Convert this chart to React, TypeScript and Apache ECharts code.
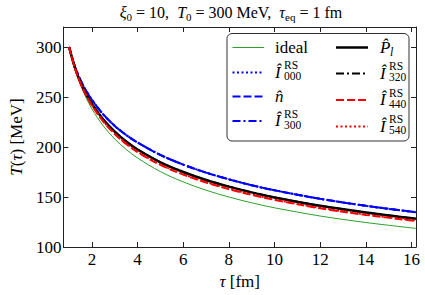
import React, { useEffect, useRef } from 'react';
import * as echarts from 'echarts';

// proper time tau [fm]
const tau = [1, 1.25, 1.5, 1.75, 2, 2.5, 3, 3.5, 4, 5, 6, 7, 8, 9, 10, 12, 14, 16.2];
// T(tau) [MeV]
const ideal = [300, 278.5, 262.1, 248.9, 238.1, 221.0, 208.0, 197.6, 189.0, 175.4, 165.1, 156.8, 150.0, 144.2, 139.2, 131.0, 124.5, 118.6];
const I000 = [300, 280.7, 266.8, 256.1, 247.1, 232.5, 221.1, 212.0, 204.5, 192.1, 182.4, 174.4, 167.7, 161.8, 156.7, 148.2, 141.2, 134.7];
const nHat = [300, 280.7, 266.8, 256.1, 247.1, 232.5, 221.1, 212.0, 204.5, 192.1, 182.4, 174.4, 167.7, 161.8, 156.7, 148.2, 141.2, 134.7];
const I300 = [300, 280.7, 266.8, 256.1, 247.1, 232.5, 221.1, 212.0, 204.5, 192.1, 182.4, 174.4, 167.7, 161.8, 156.7, 148.2, 141.2, 134.7];
const PlHat = [300, 279.6, 264.5, 252.6, 243.1, 227.4, 215.3, 205.5, 197.5, 184.7, 175.0, 167.0, 160.4, 154.6, 149.6, 141.2, 134.5, 128.2];
const I320 = [300, 279.6, 264.5, 252.6, 243.1, 227.4, 215.3, 205.5, 197.5, 184.7, 175.0, 167.0, 160.4, 154.6, 149.6, 141.2, 134.5, 128.2];
const I440 = [300, 279.1, 263.7, 251.4, 241.4, 225.4, 213.0, 203.1, 194.9, 182.1, 172.4, 164.5, 157.9, 152.1, 147.1, 138.7, 132.1, 126.0];
const I540 = [300, 279.3, 264.0, 251.8, 241.9, 225.9, 213.5, 203.6, 195.4, 182.6, 172.9, 165.0, 158.4, 152.6, 147.6, 139.2, 132.6, 126.5];

const xTicks = [2, 4, 6, 8, 10, 12, 14, 16];
const yTicks = [100, 150, 200, 250, 300];

const SERIF = 'Liberation Serif';

type SeriesDef = {
  key: string;
  data: number[];
  color: string;
  width: number;
  dash: number[] | null;
  label: { main: string; italic: boolean; sub?: string; sup?: string; subItalic?: boolean };
  col: number;
  rowY: number;
};

const DOT = [2, 2.5];
const DASH = [8, 3];
const DASHDOT = [8, 3, 2, 3];

const seriesDefs: SeriesDef[] = [
  { key: 'ideal', data: ideal, color: '#2ca02c', width: 1, dash: null, label: { main: 'ideal', italic: false }, col: 0, rowY: 47.5 },
  { key: 'I000', data: I000, color: '#0000ff', width: 2, dash: DOT, label: { main: 'Î', italic: true, sub: '000', sup: 'RS' }, col: 0, rowY: 72.5 },
  { key: 'n', data: nHat, color: '#0000ff', width: 2, dash: DASH, label: { main: 'n\u0302', italic: true }, col: 0, rowY: 96.5 },
  { key: 'I300', data: I300, color: '#0000ff', width: 2, dash: DASHDOT, label: { main: 'Î', italic: true, sub: '300', sup: 'RS' }, col: 0, rowY: 121 },
  { key: 'Pl', data: PlHat, color: '#000000', width: 2.5, dash: null, label: { main: 'P\u0302', italic: true, sub: 'l', subItalic: true }, col: 1, rowY: 47.5 },
  { key: 'I320', data: I320, color: '#000000', width: 2, dash: DASHDOT, label: { main: 'Î', italic: true, sub: '320', sup: 'RS' }, col: 1, rowY: 73.5 },
  { key: 'I440', data: I440, color: '#ff0000', width: 2, dash: DASH, label: { main: 'Î', italic: true, sub: '440', sup: 'RS' }, col: 1, rowY: 100 },
  { key: 'I540', data: I540, color: '#ff0000', width: 2, dash: DOT, label: { main: 'Î', italic: true, sub: '540', sup: 'RS' }, col: 1, rowY: 126.5 },
];

const axisColor = '#222';

function buildLegend(): any[] {
  const els: any[] = [];
  els.push({
    type: 'rect',
    z: 100,
    shape: { x: 227, y: 33.5, width: 182, height: 107.5, r: 5 },
    style: { fill: '#fff', stroke: '#333', lineWidth: 1 },
  });
  const colLine = [
    [232.5, 264],
    [336, 368],
  ];
  const colText = [275, 380];
  seriesDefs.forEach((s) => {
    const [x1, x2] = colLine[s.col];
    els.push({
      type: 'line',
      z: 101,
      shape: { x1, y1: s.rowY, x2, y2: s.rowY },
      style: { stroke: s.color, lineWidth: s.width, lineDash: s.dash || undefined },
    });
    const tx = colText[s.col];
    const ty = s.rowY - 0.5;
    els.push({
      type: 'text',
      z: 101,
      x: tx,
      y: ty,
      style: {
        text: s.label.main,
        fontSize: 17,
        fontFamily: SERIF,
        fontStyle: s.label.italic ? 'italic' : 'normal',
        fill: '#000',
        align: 'left',
        verticalAlign: 'middle',
      },
    });
    const dx = s.label.main === 'Î' ? 9 : 10;
    if (s.label.sup && s.label.sub) {
      els.push({
        type: 'text',
        z: 101,
        x: tx + dx,
        y: ty - 1.5,
        style: {
          text: s.label.sup + '\n' + s.label.sub,
          fontSize: 11.5,
          lineHeight: 11,
          fontFamily: SERIF,
          fill: '#000',
          align: 'left',
          verticalAlign: 'middle',
        },
      });
    } else if (s.label.sub) {
      els.push({
        type: 'text',
        z: 101,
        x: tx + dx,
        y: ty + 5,
        style: {
          text: s.label.sub,
          fontSize: 12,
          fontFamily: SERIF,
          fontStyle: s.label.subItalic ? 'italic' : 'normal',
          fill: '#000',
          align: 'left',
          verticalAlign: 'middle',
        },
      });
    }
  });
  return els;
}

export default function App() {
  const ref = useRef<HTMLDivElement>(null);
  useEffect(() => {
    const chart = echarts.init(ref.current!, null, { renderer: 'svg' });
    const baseAxis = {
      axisLine: { show: true, onZero: false, lineStyle: { color: axisColor, width: 1 } },
      splitLine: { show: false },
    };
    const option: any = {
      animation: false,
      backgroundColor: '#fff',
      textStyle: { fontFamily: SERIF },
      grid: { left: 55, right: 9, top: 27, bottom: 46, containLabel: false },
      xAxis: [
        {
          ...baseAxis,
          type: 'value',
          min: 0.75,
          max: 16.2,
          position: 'bottom',
          axisTick: { show: true, inside: true, length: 5, customValues: xTicks, lineStyle: { color: axisColor } },
          axisLabel: { customValues: xTicks, fontFamily: SERIF, fontSize: 17, color: '#000', margin: 4 },
          name: '{i|τ}{n| [fm]}',
          nameLocation: 'middle',
          nameGap: 26,
          nameTextStyle: {
            fontFamily: SERIF,
            rich: {
              i: { fontFamily: SERIF, fontSize: 17, fontStyle: 'italic', color: '#000' },
              n: { fontFamily: SERIF, fontSize: 17, color: '#000' },
            },
          },
        },
        {
          ...baseAxis,
          type: 'value',
          min: 0.75,
          max: 16.2,
          position: 'top',
          axisTick: { show: true, inside: true, length: 5, customValues: xTicks, lineStyle: { color: axisColor } },
          axisLabel: { show: false },
        },
      ],
      yAxis: [
        {
          ...baseAxis,
          type: 'value',
          min: 100,
          max: 320,
          position: 'left',
          axisTick: { show: true, inside: true, length: 5, customValues: yTicks, lineStyle: { color: axisColor } },
          axisLabel: { customValues: yTicks, fontFamily: SERIF, fontSize: 17, color: '#000', margin: 2 },
          name: '{i|T}{n|(}{i|τ}{n|) [MeV]}',
          nameLocation: 'middle',
          nameGap: 33,
          nameRotate: 90,
          nameTextStyle: {
            fontFamily: SERIF,
            rich: {
              i: { fontFamily: SERIF, fontSize: 17, fontStyle: 'italic', color: '#000' },
              n: { fontFamily: SERIF, fontSize: 17, color: '#000' },
            },
          },
        },
        {
          ...baseAxis,
          type: 'value',
          min: 100,
          max: 320,
          position: 'right',
          axisTick: { show: true, inside: true, length: 5, customValues: yTicks, lineStyle: { color: axisColor } },
          axisLabel: { show: false },
        },
      ],
      series: seriesDefs.map((s, i) => ({
        type: 'line',
        name: s.key,
        xAxisIndex: 0,
        yAxisIndex: 0,
        data: tau.map((t, j) => [t, s.data[j]]),
        showSymbol: false,
        smooth: 0.35,
        z: 2 + i,
        lineStyle: { color: s.color, width: s.width, type: s.dash ? s.dash : 'solid' },
        emphasis: { disabled: true },
      })),
      graphic: [
        {
          type: 'text',
          x: 231,
          y: 12,
          style: {
            text: '{i|ξ}{s|0}{n| = 10,  }{i|T}{s|0}{n| = 300 MeV,  }{i|τ}{s|eq}{n| = 1 fm}',
            align: 'center',
            verticalAlign: 'middle',
            fontFamily: SERIF,
            rich: {
              i: { fontFamily: SERIF, fontSize: 16, fontStyle: 'italic', fill: '#000', lineHeight: 20 },
              n: { fontFamily: SERIF, fontSize: 16, fill: '#000', lineHeight: 20 },
              s: { fontFamily: SERIF, fontSize: 11, fill: '#000', lineHeight: 11, verticalAlign: 'bottom' },
            },
          },
        },
        ...buildLegend(),
      ],
    };
    chart.setOption(option);
    return () => chart.dispose();
  }, []);
  return <div ref={ref} style={{ position: 'absolute', left: 0, top: 0, width: 425, height: 295 }} />;
}
